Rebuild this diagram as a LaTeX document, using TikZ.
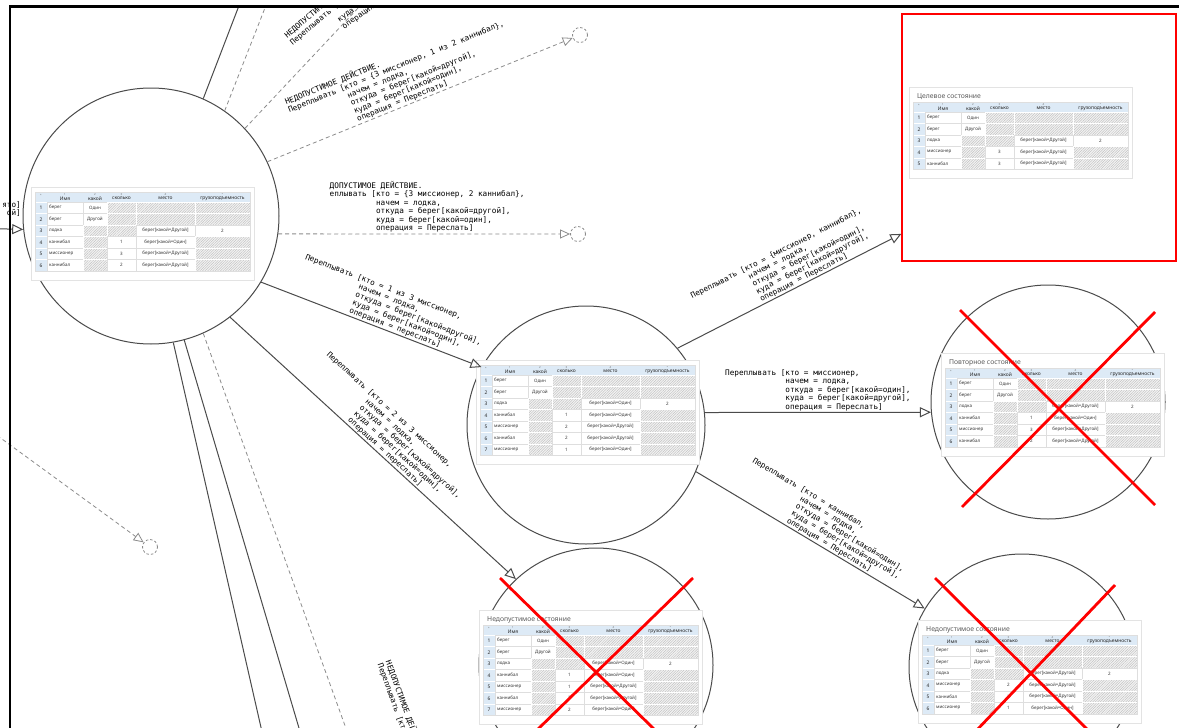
\documentclass[tikz,border=0pt]{standalone}
\usepackage{fontspec}
\setmainfont{Noto Sans}
\newfontfamily\monofont{DejaVu Sans Mono}
\usetikzlibrary{arrows.meta, patterns.meta, positioning}
\definecolor{edgegray}{RGB}{75,75,75}
\definecolor{dashgray}{RGB}{140,140,140}
\definecolor{hdrblue}{RGB}{221,234,246}
\definecolor{cellline}{RGB}{222,222,222}
\definecolor{titlegray}{RGB}{90,90,90}
\definecolor{crossred}{RGB}{255,0,0}
\newcommand\lblfont{\monofont\fontsize{7.7}{8.5}\selectfont}
\newcommand\cellfont{\fontsize{4.5}{5}\selectfont}
\newcommand\hdrfont{\fontsize{4.9}{5}\selectfont\bfseries}
\def\nomark{-}
\tikzset{
  state/.style={circle, draw=edgegray, line width=1pt, fill=white, minimum size=#1, inner sep=0pt},
  ghost/.style={circle, draw=dashgray, dash pattern=on 2.5pt off 2pt, line width=0.8pt, minimum size=15pt, inner sep=0pt},
  goalbox/.style={draw=crossred, line width=1.3pt, minimum width=274pt, minimum height=247pt, inner sep=0pt},
  trans/.style={draw=edgegray, line width=1pt, -{Triangle[open, length=11pt, width=10pt]}},
  badtrans/.style={draw=dashgray, line width=0.8pt, dash pattern=on 4pt off 3pt, -{Triangle[open, length=10pt, width=9pt]}},
  plainline/.style={draw=edgegray, line width=1pt},
  dashline/.style={draw=dashgray, line width=0.8pt, dash pattern=on 4pt off 3pt},
  lbl/.style={font=\lblfont, align=left, inner sep=1pt, text=black},
  cross/.style={draw=crossred, line width=2.8pt},
  panel/.style={fill=white, draw=gray!22, line width=0.4pt},
  hdrcell/.style={fill=hdrblue, draw=white, line width=0.4pt},
  numcell/.style={fill=hdrblue, draw=white, line width=0.4pt},
  plaincell/.style={fill=white, draw=cellline, line width=0.3pt},
  hatchcell/.style={draw=white, line width=0.4pt, preaction={fill=gray!10}, pattern={Lines[angle=45, distance=1.8pt, line width=0.35pt]}, pattern color=gray!55},
  celltext/.style={font=\cellfont, inner sep=0pt, text=black!80},
  hdrtext/.style={font=\hdrfont, inner sep=0pt, text=black!85},
  idxtext/.style={font=\fontsize{2.8}{3}\selectfont, inner sep=0pt, text=black!55},
  titletext/.style={font=\fontsize{6.8}{7}\selectfont, inner sep=0pt, text=titlegray}
}
% one cell: name, x0, x1, top, value ("-" = empty, hatched)
\newcommand\tabcell[5]{%
  \edef\cellval{#5}%
  \ifx\cellval\nomark
    \path[hatchcell] (#2,#4) rectangle (#3,#4+11.5);
  \else
    \path[plaincell] (#2,#4) rectangle (#3,#4+11.5);
    \node[celltext] (#1) at ({(#2+#3)/2},#4+5.75) {#5};
  \fi}
% state table: name, x, y, rows, title, row list
\newcommand\statetab[6]{%
  \begin{scope}[shift={(#2,#3)}]
    \pgfmathsetmacro\tabbot{10+11.5*#4}
    \def\tabtitle{#5}%
    \ifx\tabtitle\empty
      \path[panel] (-4,-5) rectangle (219,\tabbot+9);
    \else
      \path[panel] (-4,-15) rectangle (219,\tabbot+9);
      \node[titletext, anchor=south west] (#1-title) at (4,-2) {#5};
    \fi
    \path[hdrcell] (0,0) rectangle (215,10);
    \node[idxtext] (#1-h0) at (6,3) {*};
    \foreach \lab/\xa/\xb [count=\cn] in {Имя/12/48, какой/48/72, сколько/72/101, место/101/160, грузоподъемность/160/215}{
      \node[idxtext] (#1-i\cn) at ({(\xa+\xb)/2},2) {\cn};
      \node[hdrtext] (#1-h\cn) at ({(\xa+\xb)/2},6.3) {\lab};
    }
    \foreach \nm/\ka/\sk/\me/\gr [count=\rw] in {#6}{
      \pgfmathsetmacro\ytop{10+11.5*(\rw-1)}
      \path[numcell] (0,\ytop) rectangle (12,\ytop+11.5);
      \node[hdrtext] (#1-\rw-0) at (6,\ytop+5.75) {\rw};
      \path[plaincell] (12,\ytop) rectangle (48,\ytop+11.5);
      \node[celltext, anchor=west] (#1-\rw-1) at (14,\ytop+5.75) {\nm};
      \tabcell{#1-\rw-2}{48}{72}{\ytop}{\ka}
      \tabcell{#1-\rw-3}{72}{101}{\ytop}{\sk}
      \tabcell{#1-\rw-4}{101}{160}{\ytop}{\me}
      \tabcell{#1-\rw-5}{160}{215}{\ytop}{\gr}
    }
    \draw[cellline, line width=0.4pt] (0,0) rectangle (215,\tabbot);
  \end{scope}}

\begin{document}
\begin{tikzpicture}[x=1pt, y=-1pt]
\useasboundingbox (0,0) rectangle (1179,728);
\fill[white] (0,0) rectangle (1179,728);

\begin{scope}
\clip (-5,7) rectangle (1185,735);

% States
\node[state=256pt] (left) at (151,216) {};
\node[state=238pt] (mid) at (586,425) {};
\node[state=234pt] (rep) at (1048,402) {};
\node[state=234pt] (bm) at (596,665) {};
\node[state=226pt] (br) at (1022,667) {};
\node[goalbox] (goal) at (1039,137.5) {};

% Ghost states
\node[ghost] (g1) at (580,35) {};
\node[ghost] (g2) at (578,234) {};
\node[ghost] (g3) at (150,547) {};

% Free ends
\coordinate (cin) at (-30,228);
\coordinate (cdl) at (-20,423);
\coordinate (ctopA) at (245,-10);
\coordinate (ctopB) at (272,-10);
\coordinate (ctopC) at (375,-10);
\coordinate (cdn1) at (265,745);
\coordinate (cdn2) at (304,745);
\coordinate (cdn3) at (352,745);

% Tables
\statetab{tl}{35}{192}{6}{}{берег/Один/-/-/-, берег/Другой/-/-/-, лодка/-/-/берег[какой=Другой]/2, каннибал/-/1/берег[какой=Один]/-, миссионер/-/3/берег[какой=Другой]/-, каннибал/-/2/берег[какой=Другой]/-}
\statetab{tm}{480}{365}{7}{}{берег/Один/-/-/-, берег/Другой/-/-/-, лодка/-/-/берег[какой=Один]/2, каннибал/-/1/берег[какой=Один]/-, миссионер/-/2/берег[какой=Другой]/-, каннибал/-/2/берег[какой=Другой]/-, миссионер/-/1/берег[какой=Один]/-}
\statetab{tg}{913}{102}{5}{Целевое состояние}{берег/Один/-/-/-, берег/Другой/-/-/-, лодка/-/-/берег[какой=Другой]/2, миссионер/-/3/берег[какой=Другой]/-, каннибал/-/3/берег[какой=Другой]/-}
\statetab{tr}{945}{368}{6}{Повторное состояние}{берег/Один/-/-/-, берег/Другой/-/-/-, лодка/-/-/берег[какой=Другой]/2, каннибал/-/1/берег[какой=Один]/-, миссионер/-/3/берег[какой=Другой]/-, каннибал/-/2/берег[какой=Другой]/-}
\statetab{tb}{483}{625}{7}{Недопустимое состояние}{берег/Один/-/-/-, берег/Другой/-/-/-, лодка/-/-/берег[какой=Один]/2, каннибал/-/1/берег[какой=Один]/-, миссионер/-/1/берег[какой=Другой]/-, каннибал/-/2/берег[какой=Другой]/-, миссионер/-/2/берег[какой=Один]/-}
\statetab{tq}{922}{635}{6}{Недопустимое состояние}{берег/Один/-/-/-, берег/Другой/-/-/-, лодка/-/-/берег[какой=Другой]/2, миссионер/-/2/берег[какой=Другой]/-, каннибал/-/3/берег[какой=Другой]/-, миссионер/-/1/берег[какой=Один]/-}

% Transitions out of the first state
\draw[trans] (cin) -- (left.186);
\draw[plainline] (left.66) -- (ctopA);
\draw[dashline] (left.55) -- (ctopB);
\draw[dashline] (left.43) -- (ctopC);
\draw[badtrans] (left.25) -- (g1)
  node[lbl, sloped, above, pos=.47] (lbD) {НЕДОПУСТИМОЕ ДЕЙСТВИЕ.\\Переплывать [кто = \{3 миссионер, 1 из 2 каннибал\},\\\phantom{Переплывать [}начем = лодка,\\\phantom{Переплывать [}откуда = берег[какой=другой],\\\phantom{Переплывать [}куда = берег[какой=один],\\\phantom{Переплывать [}операция = Переслать]};
\draw[badtrans] (left.-8) -- (g2)
  node[lbl, above, pos=.51] (lbE) {ДОПУСТИМОЕ ДЕЙСТВИЕ.\\еплывать [кто = \{3 миссионер, 2 каннибал\},\\\phantom{еплывать [}начем = лодка,\\\phantom{еплывать [}откуда = берег[какой=другой],\\\phantom{еплывать [}куда = берег[какой=один],\\\phantom{еплывать [}операция = Переслать]};
\draw[trans] (left.-31) -- (mid.151)
  node[lbl, sloped, above, pos=.55] (lbF) {Переплывать [кто = 1 из 3 миссионер,\\\phantom{Переплывать [}начем = лодка,\\\phantom{Переплывать [}откуда = берег[какой=другой],\\\phantom{Переплывать [}куда = берег[какой=один],\\\phantom{Переплывать [}операция = переслать]};
\draw[trans] (left.-52) -- (bm.133)
  node[lbl, sloped, above, pos=.5] (lbG) {Переплывать [кто = 2 из 3 миссионер,\\\phantom{Переплывать [}начем = лодка,\\\phantom{Переплывать [}откуда = берег[какой=другой],\\\phantom{Переплывать [}куда = берег[какой=один],\\\phantom{Переплывать [}операция = переслать]};
\draw[plainline] (left.-80) -- (cdn1);
\draw[plainline] (left.-75) -- (cdn2);
\draw[dashline] (left.-66) -- (cdn3);
\draw[badtrans] (cdl) -- (g3);

% Clipped label fragments
\node[lbl, align=right, anchor=east] (lbIn) at (22,209) {ято]\\ой]};
\node[lbl, rotate=40, anchor=north west] (lbB) at (281,33) {НЕДОПУСТИМОЕ ДЕЙСТВИЕ.\\Переплывать [кто =};
\node[lbl, rotate=35, anchor=south west] (lbC) at (345,32) {куда = берег[какой=один],\\операция = Переслать]};
\node[lbl, rotate=-70, anchor=north west] (lbK) at (393,658) {НЕДОПУСТИМОЕ ДЕЙСТВИЕ.\\Переплывать [кто =};

% Transitions out of the second state
\draw[trans] (mid.40) -- (goal.215)
  node[lbl, sloped, above, pos=.52] (lbH) {Переплывать [кто = \{миссионер, каннибал\},\\\phantom{Переплывать [}начем = лодка,\\\phantom{Переплывать [}откуда = берег[какой=один],\\\phantom{Переплывать [}куда = берег[какой=другой],\\\phantom{Переплывать [}операция = Переслать]};
\draw[trans] (mid.6) -- (rep.185)
  node[lbl, above, pos=.5] (lbI) {Переплывать [кто = миссионер,\\\phantom{Переплывать [}начем = лодка,\\\phantom{Переплывать [}откуда = берег[какой=один],\\\phantom{Переплывать [}куда = берег[какой=другой],\\\phantom{Переплывать [}операция = Переслать]};
\draw[trans] (mid.-23) -- (br.149)
  node[lbl, sloped, above, pos=.51] (lbJ) {Переплывать [кто = каннибал,\\\phantom{Переплывать [}начем = лодка,\\\phantom{Переплывать [}откуда = берег[какой=один],\\\phantom{Переплывать [}куда = берег[какой=другой],\\\phantom{Переплывать [}операция = Переслать]};

% Rejected states
\draw[cross] (960,310) -- (1155,505);
\draw[cross] (1155,312) -- (962,507);
\draw[cross] (500,578) -- (657,732);
\draw[cross] (693,578) -- (535,732);
\draw[cross] (935,578) -- (1090,732);
\draw[cross] (1115,585) -- (975,732);
\end{scope}

% Frame
\draw[black, line width=2.2pt] (10,735) -- (10,6.5) -- (1185,6.5);
\end{tikzpicture}
\end{document}
